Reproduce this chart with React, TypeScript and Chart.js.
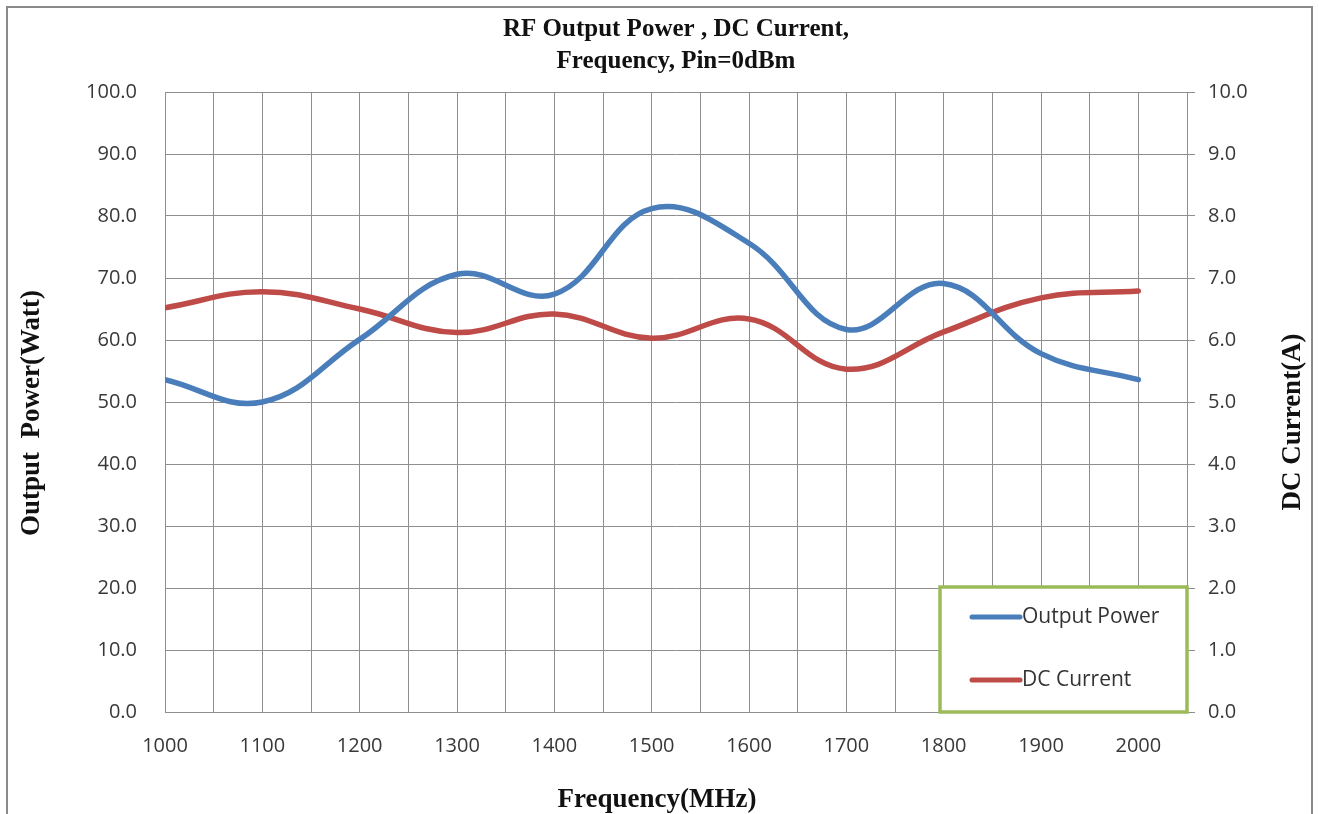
import React, { useEffect, useRef } from "react";
import { Chart, registerables } from "chart.js";

Chart.register(...registerables);

// ---- data ----
const frequencies = [1000, 1100, 1200, 1300, 1400, 1500, 1600, 1700, 1800, 1900, 2000];
const outputPower = [53.6, 50.0, 60.1, 70.6, 67.4, 81.2, 75.6, 61.7, 69.1, 57.8, 53.6];
const dcCurrent = [6.52, 6.78, 6.5, 6.12, 6.42, 6.03, 6.34, 5.53, 6.13, 6.68, 6.79];

const seriesLabels = ["Output Power", "DC Current"];
const seriesColors = ["#4a7ebb", "#be4b48"];
const titleLines = ["RF Output Power , DC Current,", "Frequency, Pin=0dBm"];
const xTitle = "Frequency(MHz)";
const yLeftTitle = "Output  Power(Watt)";
const yRightTitle = "DC Current(A)";

const W = 1319;
const H = 814;
const GRID = "#8e8e8e";
const TICK_FONT = { family: "'Open Sans', sans-serif", size: 20 };
const SERIF = "'Liberation Serif', 'Times New Roman', serif";

const decorPlugin = {
  id: "decor",
  beforeDraw(chart: any) {
    const ctx = chart.ctx;
    ctx.save();
    ctx.fillStyle = "#ffffff";
    ctx.fillRect(0, 0, chart.width, chart.height);
    ctx.strokeStyle = "#8a8a8a";
    ctx.lineWidth = 2;
    ctx.strokeRect(7, 7, 1305, 900);
    ctx.restore();
  },
  afterDraw(chart: any) {
    const ctx = chart.ctx;
    const a = chart.chartArea;
    ctx.save();
    ctx.fillStyle = "#111111";
    ctx.textAlign = "center";
    ctx.textBaseline = "middle";
    // chart title
    ctx.font = `bold 25px ${SERIF}`;
    const cx = (a.left + a.right) / 2;
    ctx.fillText(titleLines[0], cx, 30);
    ctx.fillText(titleLines[1], cx, 62);
    // axis titles
    ctx.font = `bold 27px ${SERIF}`;
    ctx.fillText(xTitle, 657, 800);
    ctx.save();
    ctx.translate(32, 413);
    ctx.rotate(-Math.PI / 2);
    ctx.fillText(yLeftTitle, 0, 0);
    ctx.restore();
    ctx.save();
    ctx.translate(1293, 422);
    ctx.rotate(-Math.PI / 2);
    ctx.fillText(yRightTitle, 0, 0);
    ctx.restore();

    // legend
    const lw = 247;
    const lh = 125;
    const lx = a.right - lw;
    const ly = a.bottom - lh;
    ctx.fillStyle = "#ffffff";
    ctx.fillRect(lx, ly, lw, lh);
    ctx.strokeStyle = "#9bbb59";
    ctx.lineWidth = 3.5;
    ctx.strokeRect(lx, ly, lw, lh);
    ctx.font = `21px ${TICK_FONT.family}`;
    ctx.textAlign = "left";
    ctx.textBaseline = "middle";
    const rows = [ly + 30, ly + 93];
    seriesLabels.forEach((lab, i) => {
      ctx.strokeStyle = seriesColors[i];
      ctx.lineWidth = 5;
      ctx.lineCap = "round";
      ctx.beginPath();
      ctx.moveTo(lx + 32, rows[i]);
      ctx.lineTo(lx + 80, rows[i]);
      ctx.stroke();
      ctx.fillStyle = "#333333";
      ctx.fillText(lab, lx + 82, rows[i]);
    });
    ctx.restore();
  },
};

export default function App() {
  const ref = useRef<HTMLCanvasElement | null>(null);

  useEffect(() => {
    if (!ref.current) return;
    const chart = new Chart(ref.current, {
      type: "line",
      data: {
        datasets: [
          {
            label: seriesLabels[0],
            data: frequencies.map((f, i) => ({ x: f, y: outputPower[i] })),
            borderColor: seriesColors[0],
            backgroundColor: seriesColors[0],
            borderWidth: 5.5,
            pointRadius: 0,
            tension: 0.4,
            borderCapStyle: "round",
            yAxisID: "y",
          },
          {
            label: seriesLabels[1],
            data: frequencies.map((f, i) => ({ x: f, y: dcCurrent[i] })),
            borderColor: seriesColors[1],
            backgroundColor: seriesColors[1],
            borderWidth: 5.5,
            pointRadius: 0,
            tension: 0.4,
            borderCapStyle: "round",
            yAxisID: "y2",
          },
        ],
      },
      options: {
        responsive: false,
        animation: false,
        devicePixelRatio: 1,
        layout: { padding: { top: 92, left: 0, right: 0, bottom: 0 } },
        plugins: {
          legend: { display: false },
          title: { display: false },
          tooltip: { enabled: false },
        },
        scales: {
          x: {
            type: "linear",
            min: 1000,
            max: 2050,
            afterFit: (s: any) => {
              s.height = 102;
            },
            ticks: {
              stepSize: 50,
              autoSkip: false,
              maxRotation: 0,
              padding: 22,
              color: "#383838",
              font: TICK_FONT,
              callback: (v: any) => (Number(v) % 100 === 0 && Number(v) <= 2000 ? String(v) : ""),
            },
            grid: { color: GRID, lineWidth: 1, drawTicks: false },
            border: { color: GRID, width: 1 },
          },
          y: {
            position: "left",
            min: 0,
            max: 100,
            afterFit: (s: any) => {
              s.width = 165;
            },
            ticks: {
              stepSize: 10,
              padding: 28,
              color: "#383838",
              font: TICK_FONT,
              callback: (v: any) => Number(v).toFixed(1),
            },
            grid: { color: GRID, lineWidth: 1, drawTicks: false },
            border: { color: GRID, width: 1 },
          },
          y2: {
            position: "right",
            min: 0,
            max: 10,
            afterFit: (s: any) => {
              s.width = 132;
            },
            ticks: {
              stepSize: 1,
              padding: 13,
              color: "#383838",
              font: TICK_FONT,
              callback: (v: any) => Number(v).toFixed(1),
            },
            grid: { drawOnChartArea: false, drawTicks: true, tickLength: 8, color: GRID },
            border: { color: GRID, width: 1 },
          },
        },
      },
      plugins: [decorPlugin],
    } as any);
    return () => chart.destroy();
  }, []);

  return (
    <div style={{ position: "absolute", left: 0, top: 0, width: W, height: H, overflow: "hidden", background: "#fff" }}>
      <canvas ref={ref} width={W} height={H} style={{ display: "block" }} />
    </div>
  );
}
